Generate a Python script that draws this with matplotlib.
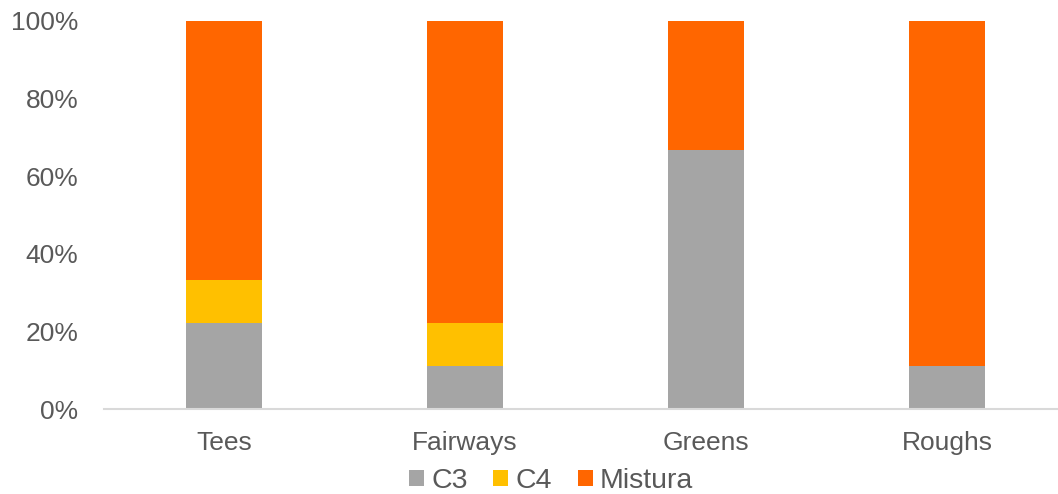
import matplotlib.pyplot as plt
import numpy as np

categories = ['Tees', 'Fairways', 'Greens', 'Roughs']
c3 = [22.2, 11.1, 66.7, 11.1]
c4 = [11.1, 11.1, 0.0, 0.0]
mistura = [66.7, 77.8, 33.3, 88.9]

series = [('C3', c3, '#A5A5A5'), ('C4', c4, '#FFC000'), ('Mistura', mistura, '#FF6600')]

plt.rcParams['font.family'] = ['Liberation Sans', 'DejaVu Sans']
text_color = '#595959'

fig = plt.figure(figsize=(10.58, 4.94), dpi=100)
ax = fig.add_axes([103.5 / 1058, 85 / 494, 964 / 1058, 388 / 494])

x = np.arange(len(categories))
bottom = np.zeros(len(categories))
for name, vals, color in series:
    ax.bar(x, vals, width=0.315, bottom=bottom, color=color, label=name)
    bottom += np.array(vals)

ax.set_xlim(-0.5, 3.5)
ax.set_ylim(0, 100)
ax.set_yticks(range(0, 101, 20))
ax.set_yticklabels([f'{v}%' for v in range(0, 101, 20)])
ax.set_xticks(x)
ax.set_xticklabels(categories)

ax.tick_params(axis='both', length=0, labelsize=19, colors=text_color)
ax.tick_params(axis='y', pad=18)
ax.tick_params(axis='x', pad=16)

for s in ['top', 'right', 'left']:
    ax.spines[s].set_visible(False)
ax.spines['bottom'].set_color('#D9D9D9')
ax.spines['bottom'].set_linewidth(1.5)
ax.spines['bottom'].set_clip_on(False)

leg = fig.legend(loc='center', bbox_to_anchor=(551 / 1058, 1 - 481 / 494), ncol=3,
                 frameon=False, fontsize=20.5, handlelength=0.53, handleheight=0.53,
                 handletextpad=0.25, columnspacing=0.9, labelcolor=text_color)

fig.savefig('out.png', dpi=100)
